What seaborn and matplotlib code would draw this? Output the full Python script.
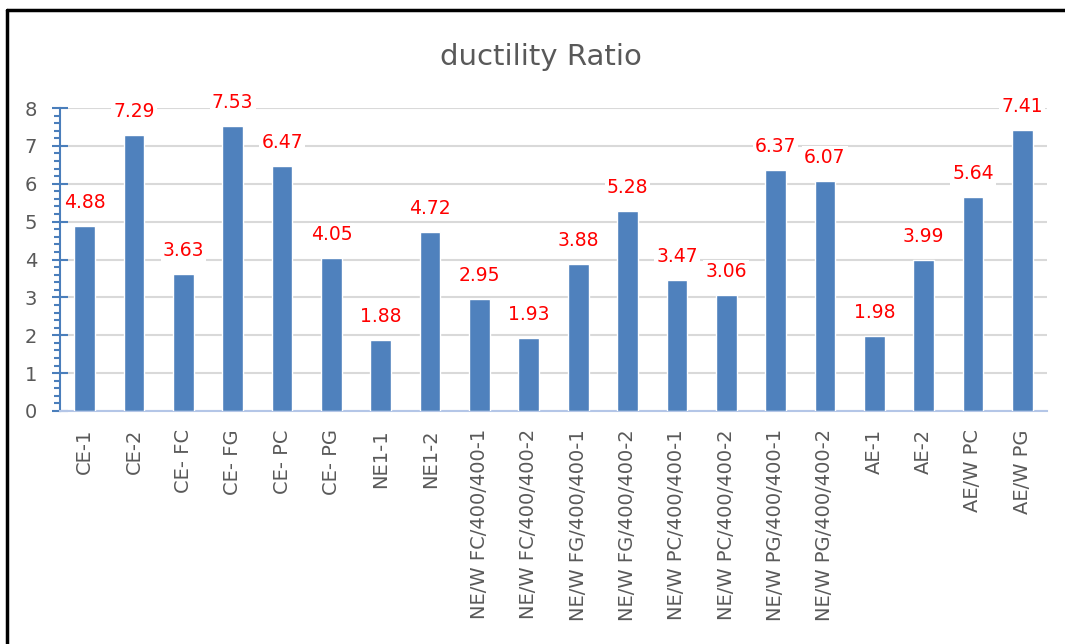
import matplotlib
matplotlib.use("Agg")
import matplotlib.pyplot as plt
from matplotlib.ticker import MultipleLocator
from matplotlib.lines import Line2D
import seaborn as sns
import pandas as pd

categories = ["CE-1", "CE-2", "CE- FC", "CE- FG", "CE- PC", "CE- PG", "NE1-1", "NE1-2",
              "NE/W FC/400/400-1", "NE/W FC/400/400-2", "NE/W FG/400/400-1", "NE/W FG/400/400-2",
              "NE/W PC/400/400-1", "NE/W PC/400/400-2", "NE/W PG/400/400-1", "NE/W PG/400/400-2",
              "AE-1", "AE-2", "AE/W PC", "AE/W PG"]
values = [4.88, 7.29, 3.63, 7.53, 6.47, 4.05, 1.88, 4.72, 2.95, 1.93, 3.88, 5.28,
          3.47, 3.06, 6.37, 6.07, 1.98, 3.99, 5.64, 7.41]
title = "ductility Ratio"

df = pd.DataFrame({"cat": categories, "val": values})

sns.set_theme(style="white")
plt.rcParams["font.family"] = ["DejaVu Sans"]

W, H = 1065, 644
fig = plt.figure(figsize=(W / 100, H / 100), dpi=100)
ax = fig.add_axes([60 / W, 1 - 411 / H, (1047 - 60) / W, (411 - 108) / H])

sns.barplot(data=df, x="cat", y="val", color="#4F81BD", width=0.42, saturation=1,
            ax=ax, zorder=3)

ax.set_ylim(0, 8)
ax.set_xlim(-0.5, len(categories) - 0.5)
ax.yaxis.set_major_locator(MultipleLocator(1))
ax.yaxis.set_minor_locator(MultipleLocator(0.2))
ax.grid(axis="y", color="#D9D9D9", linewidth=1.5, zorder=0)
ax.set_axisbelow(True)
ax.set_xlabel("")
ax.set_ylabel("")

for s in ["top", "right"]:
    ax.spines[s].set_visible(False)
ax.spines["left"].set_color("#4A7EBB")
ax.spines["left"].set_linewidth(1.5)
ax.spines["bottom"].set_color("#B4C6E7")
ax.spines["bottom"].set_linewidth(1.5)

ax.tick_params(axis="y", which="major", direction="inout", length=11, width=1.5,
               color="#4A7EBB", labelsize=14, labelcolor="#595959", pad=11, left=True)
ax.tick_params(axis="y", which="minor", direction="out", length=4.5, width=1.5,
               color="#4A7EBB", left=True)
ax.tick_params(axis="x", length=0, labelsize=14, labelcolor="#595959", pad=13)
plt.setp(ax.get_xticklabels(), rotation=90, ha="center", va="top")

ax.bar_label(ax.containers[0], labels=[f"{v:.2f}" for v in values], padding=10,
             color="#FF0000", fontsize=13.5,
             bbox=dict(facecolor="white", edgecolor="none", pad=1.5), zorder=4)

fig.text(541 / W, 1 - 65 / H, title, ha="center", va="baseline", fontsize=21,
         color="#595959")

fig.add_artist(Line2D([7 / W, 7 / W], [0, 1 - 10 / H], color="black", linewidth=2.5,
                      transform=fig.transFigure))
fig.add_artist(Line2D([7 / W, 1], [1 - 10 / H, 1 - 10 / H], color="black", linewidth=2.5,
                      transform=fig.transFigure))

fig.savefig("out.png", dpi=100, facecolor="white")
